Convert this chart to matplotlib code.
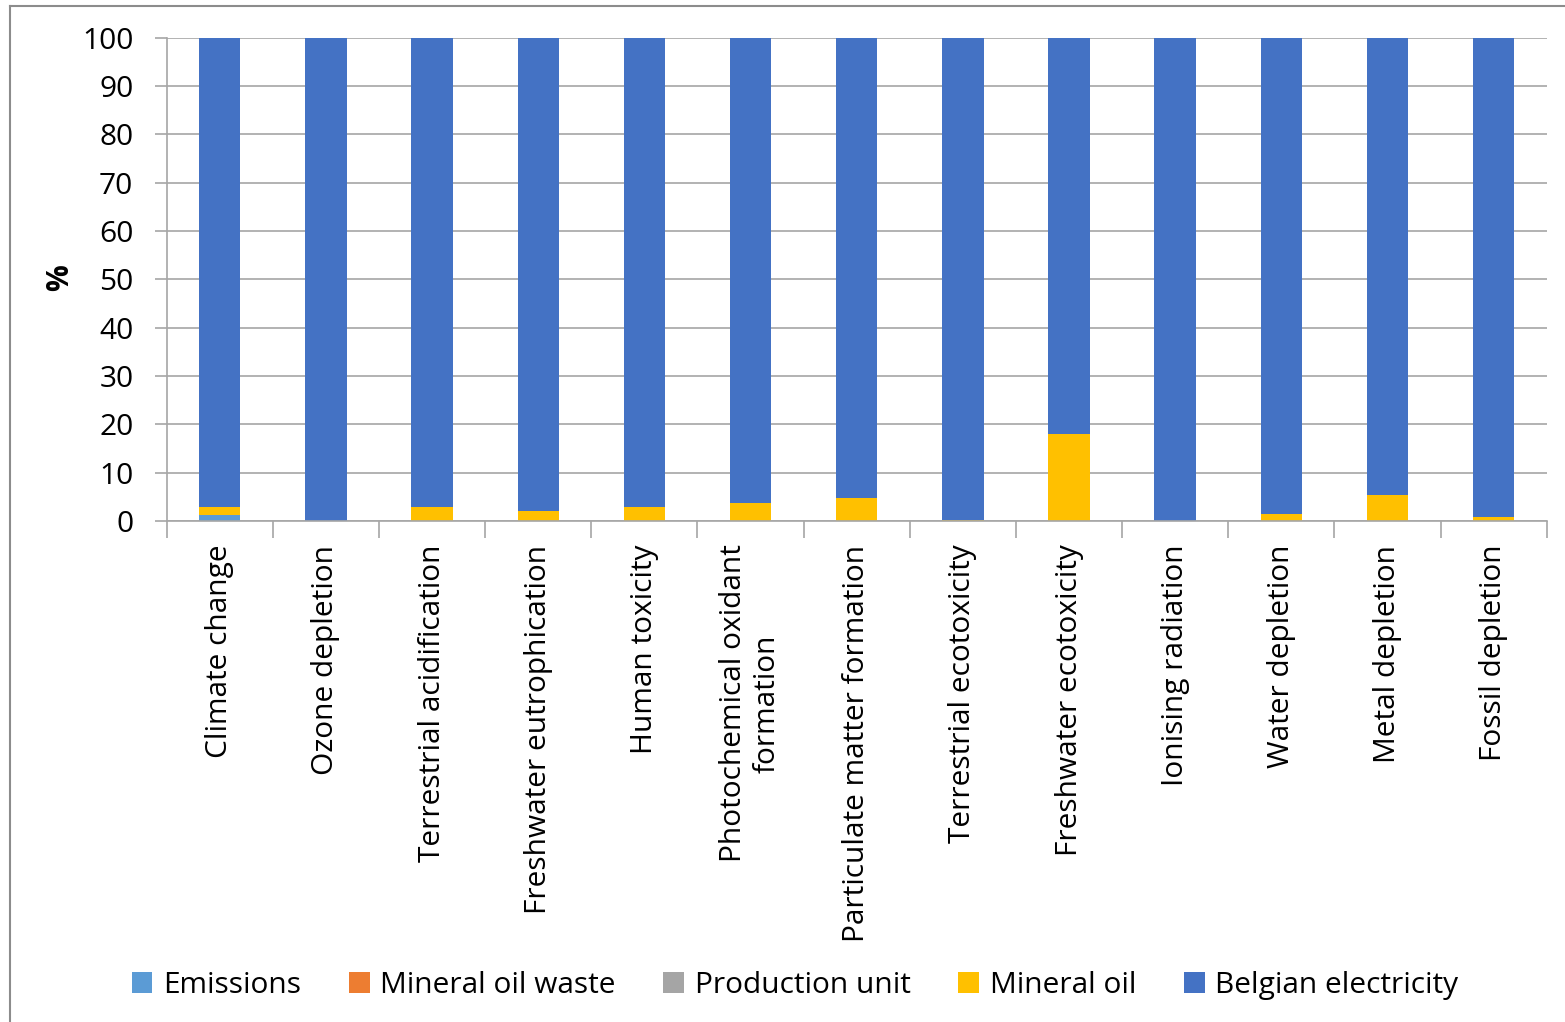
import matplotlib
matplotlib.use("Agg")
import matplotlib.pyplot as plt
from matplotlib.lines import Line2D
from matplotlib.patches import Patch
import numpy as np

plt.rcParams['font.family'] = ['Open Sans', 'DejaVu Sans']

categories = [
    "Climate change", "Ozone depletion", "Terrestrial acidification",
    "Freshwater eutrophication", "Human toxicity",
    "Photochemical oxidant\nformation", "Particulate matter formation",
    "Terrestrial ecotoxicity", "Freshwater ecotoxicity", "Ionising radiation",
    "Water depletion", "Metal depletion", "Fossil depletion",
]

series_names = ["Emissions", "Mineral oil waste", "Production unit",
                "Mineral oil", "Belgian electricity"]

emissions = [1.3, 0, 0, 0, 0, 0, 0, 0, 0, 0, 0, 0, 0]
mineral_oil_waste = [0, 0, 0, 0, 0, 0, 0, 0, 0, 0, 0, 0, 0]
production_unit = [0, 0, 0, 0, 0, 0, 0, 0, 0, 0, 0, 0, 0]
mineral_oil = [1.5, 0.0, 3.0, 2.0, 2.8, 3.7, 4.8, 0.3, 18.0, 0.0, 1.4, 5.4, 0.8]
belgian_electricity = [97.2, 100.0, 97.0, 98.0, 97.2, 96.3, 95.2, 99.7, 82.0,
                       100.0, 98.6, 94.6, 99.2]

series = [emissions, mineral_oil_waste, production_unit, mineral_oil,
          belgian_electricity]
colors = ["#5B9BD5", "#ED7D31", "#A5A5A5", "#FFC000", "#4472C4"]

y_ticks = list(range(0, 101, 10))

FS = 21.5

fig = plt.figure(figsize=(15.65, 10.22), dpi=100)
ax = fig.add_axes([166.7 / 1565, 1 - 521 / 1022, (1546.7 - 166.7) / 1565,
                   (521 - 37.7) / 1022])

x = np.arange(len(categories))
bottom = np.zeros(len(categories))
for vals, col in zip(series, colors):
    vals = np.array(vals, dtype=float)
    ax.bar(x, vals, width=0.39, bottom=bottom, color=col, zorder=3,
           linewidth=0)
    bottom += vals

grid_col = "#A6A6A6"
ax.set_xlim(-0.5, len(categories) - 0.5)
ax.set_ylim(0, 100)
ax.set_yticks(y_ticks)
ax.yaxis.grid(True, color=grid_col, linewidth=1.2, zorder=0)
ax.set_axisbelow(True)

for s in ["top", "right"]:
    ax.spines[s].set_visible(False)
for s in ["left", "bottom"]:
    ax.spines[s].set_color(grid_col)
    ax.spines[s].set_linewidth(1.2)
    ax.spines[s].set_zorder(4)

ax.tick_params(axis='y', length=9, color=grid_col, width=1.2,
               labelsize=FS, pad=15)
ax.set_xticks(x)
ax.set_xticklabels(categories, rotation=90, fontsize=FS, ha='center',
                   va='top', multialignment='center')
ax.tick_params(axis='x', which='major', length=0, pad=17)
ax.set_xticks(np.arange(-0.5, len(categories), 1.0), minor=True)
ax.tick_params(axis='x', which='minor', length=12, color=grid_col, width=1.2)

fig.text(60 / 1565, 1 - 278 / 1022, "%", rotation=90, fontsize=FS,
         fontweight='bold', ha='center', va='center')

handles = [Patch(facecolor=c, edgecolor='none') for c in colors]
fig.legend(handles, series_names, loc='center', ncol=5,
           bbox_to_anchor=(795 / 1565, 1 - 985 / 1022), frameon=False,
           fontsize=FS, handlelength=0.7, handleheight=0.7,
           handletextpad=0.35, columnspacing=1.6)

frame_col = "#8C8C8C"
fig.add_artist(Line2D([9.5 / 1565, 9.5 / 1565], [0, 1 - 6 / 1022],
                      transform=fig.transFigure, color=frame_col, lw=1.5))
fig.add_artist(Line2D([9.5 / 1565, 1], [1 - 6 / 1022, 1 - 6 / 1022],
                      transform=fig.transFigure, color=frame_col, lw=1.5))

fig.savefig("out.png", dpi=100)
